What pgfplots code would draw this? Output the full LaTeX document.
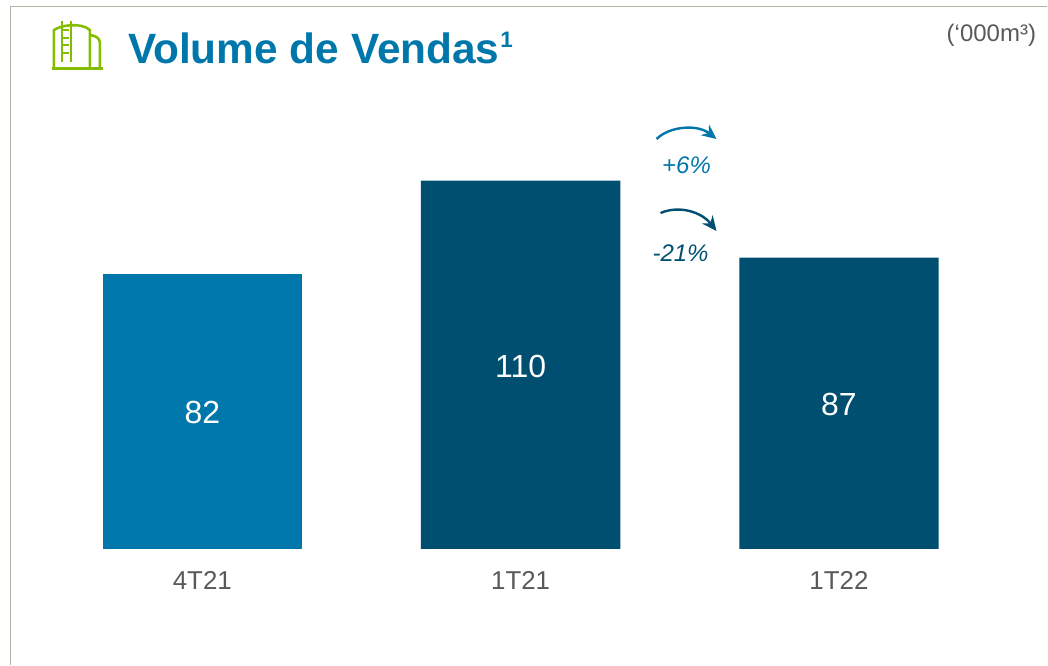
\documentclass[border=0pt]{standalone}
\usepackage{fontspec}
\setmainfont{Liberation Sans}
\usepackage{pgfplots}
\pgfplotsset{compat=1.18}
\usetikzlibrary{arrows.meta}
\definecolor{barlight}{HTML}{0077AB}
\definecolor{bardark}{HTML}{004F71}
\definecolor{framegray}{HTML}{B4B1A5}
\definecolor{iconlime}{HTML}{84BD00}
\definecolor{labelgray}{HTML}{595959}
\begin{document}
\begin{tikzpicture}
\begin{axis}[scale only axis,width=786pt,height=498.75pt,
  xmin=-0.6355,xmax=2.6545,ymin=-34.6,ymax=163.9,
  ybar,bar width=149.6pt,bar shift=0pt,
  axis line style={draw=none},major tick length=0pt,
  xtick={0,1,2},xticklabels={4T21,1T21,1T22},ytick=\empty,
  xticklabel style={font=\fontsize{19.4}{22}\selectfont,text=labelgray,anchor=center,yshift=63pt},
  clip=false]
\addplot[fill=barlight,draw=none] coordinates {(0,82)};
\addplot[fill=bardark,draw=none] coordinates {(1,110) (2,87)};
\node[white,font=\fontsize{24}{26}\selectfont] at (axis cs:0,40.8) {82};
\node[white,font=\fontsize{24}{26}\selectfont] at (axis cs:1,54.5) {110};
\node[white,font=\fontsize{24}{26}\selectfont] at (axis cs:2,43) {87};
\end{axis}
% annotations in reference pixels, y downwards
\begin{scope}[x=.75pt,y=-.75pt,yshift=498.75pt]
\draw[framegray,line width=1.1pt] (10.5,665) -- (10.5,6.5) -- (1048,6.5);
\begin{scope}[iconlime,line width=1.9pt]
\draw (52,68.5) -- (103,68.5);
\draw (54,68) -- (54,30) .. controls (60,25) and (82,22) .. (90,30) -- (90,68);
\draw (62,21) -- (62,62) (71,21) -- (71,62);
\draw (62,30) -- (69,30) (62,38) -- (69,38) (62,45) -- (69,45) (62,53) -- (69,53);
\draw (91,35) .. controls (96,36) and (100,38) .. (100,43) -- (100,68);
\end{scope}
\node[anchor=base west,inner sep=0pt,text=barlight,font=\fontsize{31.8}{34}\selectfont\bfseries] at (128,63.5) {Volume de Vendas\kern0.7pt\raisebox{12pt}{\fontsize{16.8}{18}\selectfont 1}};
\node[anchor=base east,inner sep=0pt,text=labelgray,font=\fontsize{18}{20}\selectfont] at (1037,41) {(‘000m³)};
\draw[barlight,line width=1.8pt,-{Stealth[length=11pt,width=10pt]}] (657,139) .. controls (670,126) and (698,124) .. (717,139);
\draw[bardark,line width=1.8pt,-{Stealth[length=11pt,width=10pt]}] (661,213) .. controls (680,205) and (702,212) .. (717,231);
\node[anchor=base,inner sep=0pt,text=barlight,font=\fontsize{18}{20}\selectfont\itshape] at (687,174) {+6\%};
\node[anchor=base,inner sep=0pt,text=bardark,font=\fontsize{18}{20}\selectfont\itshape] at (681,262) {-21\%};
\end{scope}
\end{tikzpicture}
\end{document}
